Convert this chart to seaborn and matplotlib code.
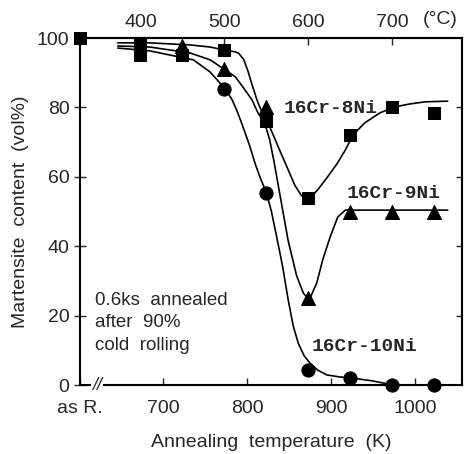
import numpy as np
import pandas as pd
import matplotlib
matplotlib.use("Agg")
import matplotlib.pyplot as plt
import seaborn as sns

# measured points (K, vol%) ; 601 K stands for "as R."
sq_x = [601, 673, 673, 723, 773, 823, 873, 923, 973, 1023]
sq_y = [100, 98.6, 95.2, 95.2, 96.5, 76, 54, 72, 80, 78.4]
tri_x = [723, 773, 823, 873, 923, 973, 1023]
tri_y = [97.8, 91, 80, 25, 50, 50, 50]
cir_x = [773, 823, 873, 923, 973, 1023]
cir_y = [85.4, 55.3, 4.3, 2, 0, 0]

# hand drawn guide curves
c8_x = [646, 684, 732, 756, 774, 786, 790, 796, 801, 806, 812, 818, 825, 833,
        840, 849, 857, 865, 875, 884, 895, 907, 917, 926, 940, 958, 975, 994,
        1012, 1039]
c8_y = [98.6, 98.6, 98.0, 97.4, 96.5, 96.0, 95.6, 93.8, 90.5, 86.5, 82.0, 78.4,
        75.5, 71.0, 67.0, 62.0, 57.5, 54.5, 53.9, 56.2, 59.7, 63.7, 67.7, 72.0,
        75.5, 78.4, 80.1, 81.0, 81.6, 81.8]
c9_x = [646, 684, 732, 756, 774, 786, 795, 806, 813, 821, 827, 832, 839, 849,
        859, 867, 874, 883, 890, 899, 908, 917, 926, 1039]
c9_y = [97.7, 97.4, 95.7, 93.7, 90.8, 88.8, 85.9, 82.1, 78.4, 75.5, 70.6, 64.5,
        55.0, 41.5, 31.5, 26.5, 24.5, 29.4, 36.0, 42.7, 48.4, 50.4, 50.4, 50.4]
c10_x = [646, 684, 736, 756, 774, 782, 788, 795, 803, 810, 816, 823, 829, 835,
         842, 849, 855, 861, 868, 875, 884, 895, 911, 925, 949, 974, 1039]
c10_y = [97.1, 96.3, 93.7, 90.2, 85.3, 82.3, 79.0, 74.5, 69.0, 63.5, 59.5, 55.5,
         50.0, 43.0, 34.6, 24.5, 17.0, 12.0, 8.4, 6.3, 4.3, 2.9, 2.3, 2.0, 1.2, 0, 0]

k_ticks = [601, 700, 800, 900, 1000]
k_labels = ["as R.", "700", "800", "900", "1000"]
c_ticks = [400, 500, 600, 700]
y_ticks = [0, 20, 40, 60, 80, 100]

sns.set_style("ticks")
plt.rcParams["font.family"] = ["Liberation Sans", "DejaVu Sans"]

fig = plt.figure(figsize=(4.65, 4.54), dpi=100)
ax = fig.add_axes([80 / 465, 1 - 385 / 454, 382 / 465, 347 / 454])

for cx, cy in [(c8_x, c8_y), (c9_x, c9_y), (c10_x, c10_y)]:
    sns.lineplot(x=cx, y=cy, ax=ax, color="black", lw=1.2, sort=False,
                 estimator=None, zorder=2)

kw = dict(ax=ax, color="black", edgecolor="black", zorder=3, clip_on=False, legend=False)
sns.scatterplot(x=sq_x, y=sq_y, marker="s", s=85, **kw)
sns.scatterplot(x=tri_x, y=tri_y, marker="^", s=100, **kw)
sns.scatterplot(x=cir_x, y=cir_y, marker="o", s=90, **kw)

ax.set_xlim(601, 1056)
ax.set_ylim(0, 100)
ax.set_xticks(k_ticks)
ax.set_xticklabels(k_labels)
ax.set_yticks(y_ticks)
ax.tick_params(axis="x", direction="in", length=5, width=1, labelsize=14, pad=11)
ax.tick_params(axis="y", direction="inout", length=9, width=1, labelsize=14, pad=3)
for s in ax.spines.values():
    s.set_linewidth(1.5)
    s.set_color("black")

top = ax.secondary_xaxis("top", functions=(lambda k: k - 273, lambda c: c + 273))
top.set_xticks(c_ticks)
top.tick_params(direction="in", length=5, width=1, labelsize=14, pad=5)
top.spines["top"].set_linewidth(1.5)

right = ax.secondary_yaxis("right")
right.set_yticks([20, 40, 60, 80])
right.set_yticklabels([])
right.tick_params(direction="in", length=4, width=1)
right.spines["right"].set_linewidth(1.5)

ax.text(1030, 1.03, "(°C)", transform=ax.get_xaxis_transform(),
        ha="center", va="bottom", fontsize=14)

ax.set_xlabel("Annealing  temperature  (K)", fontsize=14, labelpad=12)
ax.set_ylabel("Martensite  content  (vol%)", fontsize=14, labelpad=6)

# axis break mark
ax.text(621, 0, "//", fontsize=13, style="italic", ha="center", va="center",
        clip_on=False, zorder=5,
        bbox=dict(facecolor="white", edgecolor="none", pad=0.5))

mono = dict(family=["Liberation Mono", "DejaVu Sans Mono"], weight="bold", fontsize=14)
ax.text(843, 79.8, "16Cr-8Ni", va="center", ha="left", **mono)
ax.text(919, 55.3, "16Cr-9Ni", va="center", ha="left", **mono)
ax.text(877, 11.2, "16Cr-10Ni", va="center", ha="left", **mono)

ax.text(619, 17.9, "0.6ks  annealed\nafter  90%\ncold  rolling", fontsize=13.5,
        ha="left", va="center", linespacing=1.45)

fig.savefig("out.png", dpi=100)
